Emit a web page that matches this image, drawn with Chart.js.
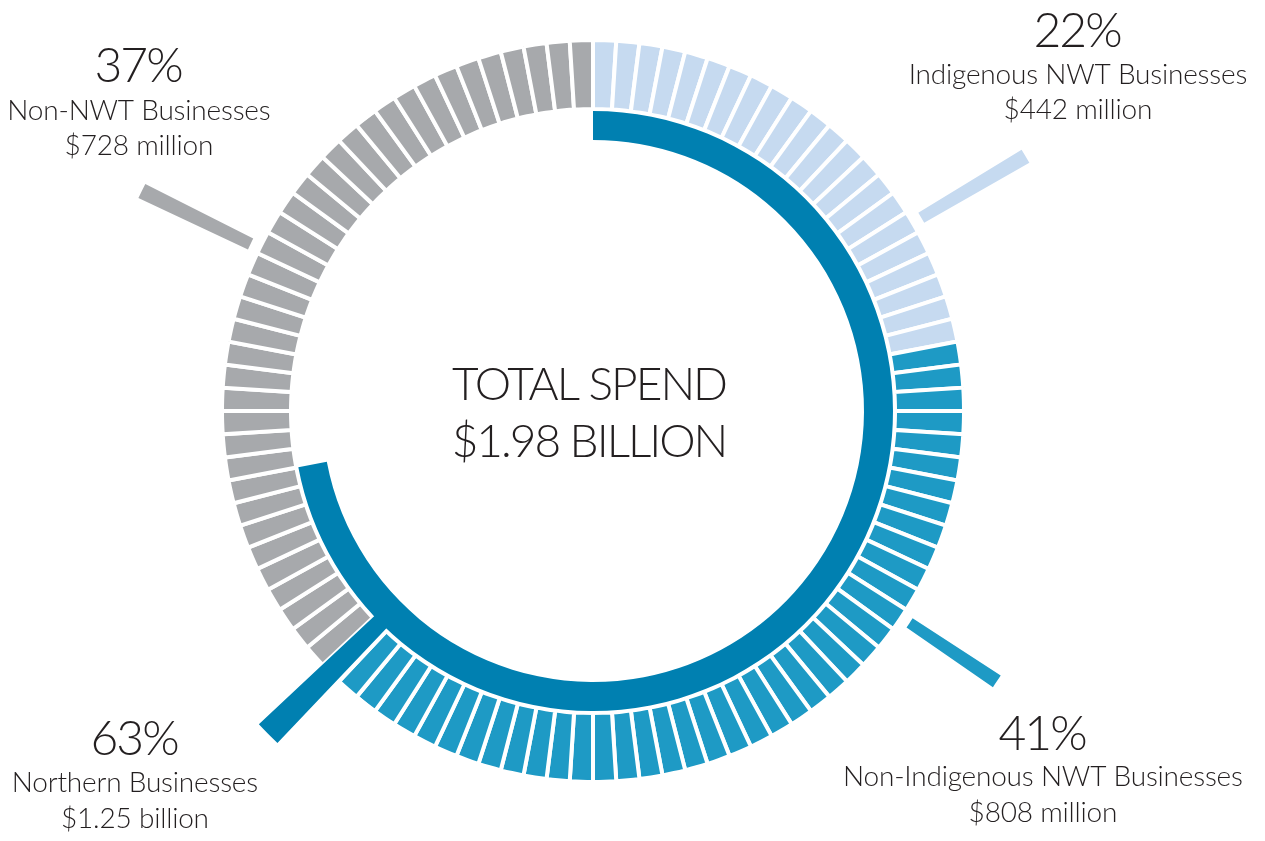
<!DOCTYPE html>
<html>
<head>
<meta charset="utf-8">
<title>Total spend by business type</title>
<script src="https://cdn.jsdelivr.net/npm/chart.js@4.4.1/dist/chart.umd.min.js"></script>
<style>
  html, body { margin: 0; padding: 0; background: #fff; }
  #wrap { position: relative; width: 1265px; height: 841px; }
  #wrap canvas { position: absolute; left: 0; top: 0; }
</style>
</head>
<body>
<div id="wrap">
  <canvas id="ring" width="1265" height="841"></canvas>
  <canvas id="leaders" width="1265" height="841"></canvas>
  <canvas id="leaderMid" width="1265" height="841"></canvas>
  <canvas id="leaderNorth" width="1265" height="841"></canvas>
  <canvas id="inner" width="1265" height="841"></canvas>
</div>
<script>
// share of total spend (percent), clockwise from the top
const categories = ['Indigenous NWT Businesses', 'Non-Indigenous NWT Businesses', 'Non-NWT Businesses'];
const shares = [22, 41, 37];
const amounts = ['$442 million', '$808 million', '$728 million'];
const colors = ['#c6daf0', '#1e9ac5', '#a7a9ac'];

const northernLabel = 'Northern Businesses';
const northernShare = 63;
const northernAmount = '$1.25 billion';
const northernColor = '#0080b1';
// the dark inner arc in the graphic runs on past the 63% mark (to ~72% of the circle)
const innerArc = [72, 28];

const totalLines = ['TOTAL SPEND', '$1.98 BILLION'];

// leader ticks: angle (deg clockwise from top), angular width
const leaderLight = { angle: 59.5, width: 1.75, color: colors[0] };
const leaderGray = { angle: 296, width: 1.8, color: colors[2] };
const leaderMid = { angle: 123.8, width: 1.65, color: colors[1] };
const leaderNorth = { angle: 225.2, width: 3.3, color: northernColor };

// centre of the ring sits at (593, 411)
const PAD = { left: 0, top: 0, right: 79, bottom: 19 };
const CLEAR = 'rgba(0,0,0,0)';

function ring(id, dataset, outer, inner, plugins) {
  return new Chart(document.getElementById(id), {
    type: 'doughnut',
    data: { datasets: [Object.assign({ borderWidth: 0 }, dataset)] },
    options: {
      responsive: false,
      animation: false,
      events: [],
      radius: outer,
      cutout: (inner / outer * 100) + '%',
      layout: { padding: PAD },
      plugins: { legend: { display: false }, tooltip: { enabled: false } }
    },
    plugins: plugins || []
  });
}

// one tick per percent point
let segData = [], segColors = [];
shares.forEach((s, i) => {
  for (let k = 0; k < s; k++) { segData.push(1); segColors.push(colors[i]); }
});
// the northern leader cuts through the ring here
const total = segData.length;
segColors[Math.floor(leaderNorth.angle / 360 * total)] = '#ffffff';

ring('ring', {
  data: segData,
  backgroundColor: segColors,
  borderColor: '#ffffff',
  borderWidth: 4,
  borderJoinStyle: 'miter'
}, 371, 302);

function leaderSet(list) {
  let data = [], bg = [], pos = 0;
  list.slice().sort((a, b) => a.angle - b.angle).forEach(l => {
    const start = l.angle - l.width / 2;
    data.push(start - pos); bg.push(CLEAR);
    data.push(l.width); bg.push(l.color);
    pos = start + l.width;
  });
  data.push(360 - pos); bg.push(CLEAR);
  return { data: data, backgroundColor: bg };
}

ring('leaders', leaderSet([leaderLight, leaderGray]), 502, 381);
ring('leaderMid', leaderSet([leaderMid]), 486, 381);
ring('leaderNorth', leaderSet([leaderNorth]), 458, 285);

const labelBlocks = [
  { x: 1078, y: [47, 84, 119], lines: [shares[0] + '%', categories[0], amounts[0]] },
  { x: 1043, y: [750, 786, 822], lines: [shares[1] + '%', categories[1], amounts[1]] },
  { x: 139, y: [82, 120, 155], lines: [shares[2] + '%', categories[2], amounts[2]] },
  { x: 135, y: [755, 792, 828], lines: [northernShare + '%', northernLabel, northernAmount] }
];

function spaced(ctx, text, x, y, sp) {
  ctx.letterSpacing = sp + 'px';
  ctx.fillText(text, x + sp / 2, y);
  ctx.letterSpacing = '0px';
}

const textPlugin = {
  id: 'texts',
  afterDraw(chart) {
    const ctx = chart.ctx;
    ctx.save();
    ctx.fillStyle = '#231f20';
    ctx.textAlign = 'center';
    ctx.textBaseline = 'alphabetic';
    labelBlocks.forEach(b => {
      ctx.font = '300 48px Lato';
      spaced(ctx, b.lines[0], b.x, b.y[0], -2);
      ctx.font = '300 28px Lato';
      spaced(ctx, b.lines[1], b.x, b.y[1], -0.2);
      spaced(ctx, b.lines[2], b.x, b.y[2], -0.2);
    });
    ctx.font = '300 46px Lato';
    spaced(ctx, totalLines[0], 590, 400, -2);
    spaced(ctx, totalLines[1], 590, 457, -2);
    ctx.restore();
  }
};

ring('inner', {
  data: innerArc,
  backgroundColor: [northernColor, CLEAR]
}, 300, 271, [textPlugin]);
</script>
</body>
</html>
